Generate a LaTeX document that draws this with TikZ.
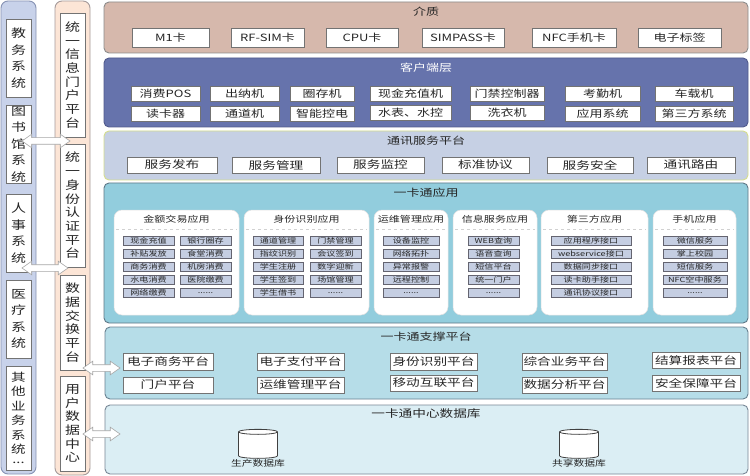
\documentclass[tikz,border=0pt]{standalone}
\usepackage{fontspec}
\setmainfont{Noto Sans CJK SC}[FakeStretch=1.3]
\usetikzlibrary{shapes.geometric,shapes.arrows}
\definecolor{cLeft}{RGB}{200,210,234}
\definecolor{cLeftD}{RGB}{135,147,180}
\definecolor{cMid}{RGB}{252,229,214}
\definecolor{cMidD}{RGB}{165,155,155}
\definecolor{cMedium}{RGB}{214,184,172}
\definecolor{cMediumD}{RGB}{140,140,140}
\definecolor{cClient}{RGB}{102,115,172}
\definecolor{cClientD}{RGB}{80,90,140}
\definecolor{cComm}{RGB}{198,208,228}
\definecolor{cCommD}{RGB}{214,222,140}
\definecolor{cApp}{RGB}{146,205,221}
\definecolor{cAppD}{RGB}{95,120,135}
\definecolor{cSup}{RGB}{182,221,232}
\definecolor{cSupD}{RGB}{105,130,145}
\definecolor{cDb}{RGB}{219,238,244}
\definecolor{cDbD}{RGB}{120,135,150}
\definecolor{cItem}{RGB}{197,206,226}
\definecolor{cItemD}{RGB}{100,100,112}
\definecolor{cTxt}{RGB}{38,38,38}
\newcommand\RN[7]{%
  \pgfmathsetmacro\rnw{#5-#3}\pgfmathsetmacro\rnh{#6-#4}%
  \pgfmathsetmacro\rnx{(#3+#5)/2}\pgfmathsetmacro\rny{(#4+#6)/2}%
  \node[#2, minimum width=\rnw pt, minimum height=\rnh pt, inner sep=0pt] (#1) at (\rnx,\rny) {#7};}
\begin{document}
\begin{tikzpicture}[x=1pt,y=-1pt,
  every node/.style={text=cTxt},
  colbox/.style={rounded corners=7pt, line width=0.9pt},
  layerbox/.style={rounded corners=5pt, line width=0.9pt},
  wbox/.style={draw=black!55, fill=white, line width=0.6pt},
  card/.style={wbox, font=\fontsize{10}{12}\selectfont},
  cbtn/.style={wbox, font=\fontsize{10}{12}\selectfont},
  sbtn/.style={wbox, font=\fontsize{10.5}{12}\selectfont},
  vleft/.style={wbox, align=center, font=\fontsize{11.5}{16.5}\selectfont},
  vmid/.style={wbox, align=center, font=\fontsize{11.5}{13.7}\selectfont},
  ttl/.style={font=\fontsize{10}{12}\selectfont},
  panel/.style={fill=white, draw=black!12, line width=0.5pt, rounded corners=8pt},
  ptitle/.style={font=\fontsize{8.5}{10}\selectfont},
  itm/.style={draw=cItemD, fill=cItem, line width=0.6pt, font=\fontsize{7}{8}\selectfont},
  barrow/.style={double arrow, draw=black!35, fill=white, line width=0.6pt, inner sep=0pt,
    text height=3pt, text depth=3pt, double arrow head extend=3.5pt, double arrow tip angle=70},
  db/.style={cylinder, shape border rotate=90, aspect=0.75, draw=black!75, fill=white, line width=0.8pt},
  dblabel/.style={font=\fontsize{8.3}{10}\selectfont}
]
\useasboundingbox (0,0) rectangle (750,476);
\fill[white] (0,0) rectangle (750,476);

% ---------- left column ----------
\RN{leftcol}{colbox, fill=cLeft, draw=cLeftD}{1}{1}{36}{474}{}
\RN{l1}{vleft}{6}{19}{31}{97}{教\\务\\系\\统}
\RN{l2}{vleft}{6}{105}{31}{183}{图\\书\\馆\\系\\统}
\RN{l3}{vleft}{6}{194}{31}{272}{人\\事\\系\\统}
\RN{l4}{vleft}{6}{280}{31}{358}{医\\疗\\系\\统}
\RN{l5}{vleft, font=\fontsize{11.2}{14.4}\selectfont}{6}{366}{31}{470}{其\\他\\业\\务\\系\\统\\[-4pt]...}

% ---------- middle column ----------
\RN{midcol}{colbox, fill=cMid, draw=cMidD}{55}{1}{90}{475}{}
\RN{g1}{vmid}{60}{13}{85}{137}{统\\一\\信\\息\\门\\户\\平\\台}
\RN{g2}{vmid}{60}{144}{85}{267}{统\\一\\身\\份\\认\\证\\平\\台}
\RN{g3}{vmid}{60}{275}{85}{370}{数\\据\\交\\换\\平\\台}
\RN{g4}{vmid}{60}{376}{85}{471}{用\\户\\数\\据\\中\\心}

% ---------- 介质 ----------
\RN{medium}{layerbox, fill=cMedium, draw=cMediumD}{104}{2}{748}{53}{}
\node[ttl] (tmedium) at (426,12) {介质};
\RN{m1}{card}{132}{28}{209}{47}{M1卡}
\RN{m2}{card}{231}{28}{304}{47}{RF-SIM卡}
\RN{m3}{card}{326}{28}{398}{47}{CPU卡}
\RN{m4}{card}{422}{28}{504}{47}{SIMPASS卡}
\RN{m5}{card}{532}{28}{616}{47}{NFC手机卡}
\RN{m6}{card}{638}{28}{721}{47}{电子标签}

% ---------- 客户端层 ----------
\RN{client}{layerbox, fill=cClient, draw=cClientD}{104}{58}{748}{127}{}
\node[ttl, text=white] (tclient) at (426,68) {客户端层};
\RN{c11}{cbtn}{131}{86}{200}{101}{消费POS}
\RN{c21}{cbtn}{210}{86}{279}{101}{出纳机}
\RN{c31}{cbtn}{290}{86}{354}{101}{圈存机}
\RN{c41}{cbtn}{370}{86}{451}{101}{现金充值机}
\RN{c51}{cbtn}{470}{86}{544}{101}{门禁控制器}
\RN{c61}{cbtn}{565}{86}{640}{101}{考勤机}
\RN{c71}{cbtn}{655}{86}{733}{101}{车载机}
\RN{c12}{cbtn}{131}{106}{200}{121}{读卡器}
\RN{c22}{cbtn}{210}{106}{279}{121}{通道机}
\RN{c32}{cbtn}{290}{106}{354}{121}{智能控电}
\RN{c42}{cbtn}{370}{105}{451}{120}{水表、水控}
\RN{c52}{cbtn}{470}{105}{544}{120}{洗衣机}
\RN{c62}{cbtn}{565}{106}{640}{121}{应用系统}
\RN{c72}{cbtn}{655}{106}{733}{121}{第三方系统}

% ---------- 通讯服务平台 ----------
\RN{comm}{layerbox, fill=cComm, draw=cCommD}{104}{131}{748}{180}{}
\node[ttl] (tcomm) at (426,141) {通讯服务平台};
\RN{s1}{sbtn}{127}{157}{217}{173}{服务发布}
\RN{s2}{sbtn}{232}{157}{320}{173}{服务管理}
\RN{s3}{sbtn}{337}{157}{424}{173}{服务监控}
\RN{s4}{sbtn}{442}{157}{529}{173}{标准协议}
\RN{s5}{sbtn}{547}{157}{633}{173}{服务安全}
\RN{s6}{sbtn}{647}{157}{735}{173}{通讯路由}

% ---------- 一卡通应用 ----------
\RN{app}{layerbox, fill=cApp, draw=cAppD}{104}{183}{748}{323}{}
\node[ttl] (tapp) at (426,193) {一卡通应用};
\RN{p1}{panel}{114}{210}{239}{315}{}
\RN{p2}{panel}{244}{210}{369}{315}{}
\RN{p3}{panel}{374}{210}{448}{315}{}
\RN{p4}{panel}{453}{210}{537}{315}{}
\RN{p5}{panel}{541}{210}{648}{315}{}
\RN{p6}{panel}{653}{210}{736}{315}{}
\node[ptitle] (tp1) at (176.5,219) {金额交易应用};
\node[ptitle] (tp2) at (306.5,219) {身份识别应用};
\node[ptitle] (tp3) at (411,219) {运维管理应用};
\node[ptitle] (tp4) at (495,219) {信息服务应用};
\node[ptitle] (tp5) at (594.5,219) {第三方应用};
\node[ptitle] (tp6) at (694.5,219) {手机应用};
\foreach \a/\b in {114/239,244/369,374/448,453/537,541/648,653/736}
  \draw[black!18, dashed, line width=0.5pt] (\a+2,229) -- (\b-2,229);
% panel 1
\RN{p1a1}{itm}{123}{236}{174}{245.5}{现金充值}
\RN{p1a2}{itm}{123}{249}{174}{258.5}{补贴发放}
\RN{p1a3}{itm}{123}{262}{174}{271.5}{商务消费}
\RN{p1a4}{itm}{123}{275}{174}{284.5}{水电消费}
\RN{p1a5}{itm}{123}{288}{174}{297.5}{网络缴费}
\RN{p1b1}{itm}{180}{236}{231}{245.5}{银行圈存}
\RN{p1b2}{itm}{180}{249}{231}{258.5}{食堂消费}
\RN{p1b3}{itm}{180}{262}{231}{271.5}{机房消费}
\RN{p1b4}{itm}{180}{275}{231}{284.5}{医院缴费}
\RN{p1b5}{itm}{180}{288}{231}{297.5}{......}
% panel 2
\RN{p2a1}{itm}{253}{236}{303}{245.5}{通道管理}
\RN{p2a2}{itm}{253}{249}{303}{258.5}{指纹识别}
\RN{p2a3}{itm}{253}{262}{303}{271.5}{学生注册}
\RN{p2a4}{itm}{253}{275}{303}{284.5}{学生签到}
\RN{p2a5}{itm}{253}{288}{303}{297.5}{学生借书}
\RN{p2b1}{itm}{310}{236}{361}{245.5}{门禁管理}
\RN{p2b2}{itm}{310}{249}{361}{258.5}{会议签到}
\RN{p2b3}{itm}{310}{262}{361}{271.5}{数字迎新}
\RN{p2b4}{itm}{310}{275}{361}{284.5}{场馆管理}
\RN{p2b5}{itm}{310}{288}{361}{297.5}{......}
% panel 3
\RN{p3a1}{itm}{383}{236}{439}{245.5}{设备监控}
\RN{p3a2}{itm}{383}{249}{439}{258.5}{网络拓扑}
\RN{p3a3}{itm}{383}{262}{439}{271.5}{异常报警}
\RN{p3a4}{itm}{383}{275}{439}{284.5}{远程控制}
\RN{p3a5}{itm}{383}{288}{439}{297.5}{......}
% panel 4
\RN{p4a1}{itm}{468}{236}{519}{245.5}{WEB查询}
\RN{p4a2}{itm}{468}{249}{519}{258.5}{语音查询}
\RN{p4a3}{itm}{468}{262}{519}{271.5}{短信平台}
\RN{p4a4}{itm}{468}{275}{519}{284.5}{统一门户}
\RN{p4a5}{itm}{468}{288}{519}{297.5}{......}
% panel 5
\RN{p5a1}{itm}{551}{236}{631}{245.5}{应用程序接口}
\RN{p5a2}{itm}{551}{249}{631}{258.5}{webservice接口}
\RN{p5a3}{itm}{551}{262}{631}{271.5}{数据同步接口}
\RN{p5a4}{itm}{551}{275}{631}{284.5}{读卡助手接口}
\RN{p5a5}{itm}{551}{288}{631}{297.5}{通讯协议接口}
% panel 6
\RN{p6a1}{itm}{663}{236}{727}{245.5}{微信服务}
\RN{p6a2}{itm}{663}{249}{727}{258.5}{掌上校园}
\RN{p6a3}{itm}{663}{262}{727}{271.5}{短信服务}
\RN{p6a4}{itm}{663}{275}{727}{284.5}{NFC空中服务}
\RN{p6a5}{itm}{663}{288}{727}{297.5}{......}

% ---------- 一卡通支撑平台 ----------
\RN{sup}{layerbox, fill=cSup, draw=cSupD}{105}{327}{748}{399}{}
\node[ttl] (tsup) at (426,337) {一卡通支撑平台};
\RN{u11}{sbtn}{123}{353}{213}{370}{电子商务平台}
\RN{u21}{sbtn}{257}{353}{344}{370}{电子支付平台}
\RN{u31}{sbtn}{390}{353}{477}{370}{身份识别平台}
\RN{u41}{sbtn}{522}{353}{607}{370}{综合业务平台}
\RN{u51}{sbtn}{652}{352}{740}{368}{结算报表平台}
\RN{u12}{sbtn}{123}{377}{213}{393}{门户平台}
\RN{u22}{sbtn}{257}{377}{344}{393}{运维管理平台}
\RN{u32}{sbtn}{390}{375}{477}{391}{移动互联平台}
\RN{u42}{sbtn}{522}{377}{607}{393}{数据分析平台}
\RN{u52}{sbtn}{652}{375}{740}{391}{安全保障平台}

% ---------- 一卡通中心数据库 ----------
\RN{dbl}{layerbox, fill=cDb, draw=cDbD}{105}{405}{748}{474}{}
\node[font=\fontsize{10.5}{13}\selectfont] (tdb) at (426,414) {一卡通中心数据库};
\node[db, minimum width=39pt, minimum height=29pt] (db1) at (258,446) {};
\node[db, minimum width=39pt, minimum height=29pt] (db2) at (579,446) {};
\node[dblabel, anchor=north, inner sep=1pt] (db1l) at (db1.south) {生产数据库};
\node[dblabel, anchor=north, inner sep=1pt] (db2l) at (db2.south) {共享数据库};

% ---------- block arrows ----------
\node[barrow, minimum height=48pt] (a1) at (46,141) {};
\node[barrow, minimum height=46pt] (a2) at (45,268) {};
\node[barrow, minimum height=37pt] (a3) at (101.5,368) {};
\node[barrow, minimum height=37pt] (a4) at (101.5,434) {};
\end{tikzpicture}
\end{document}
